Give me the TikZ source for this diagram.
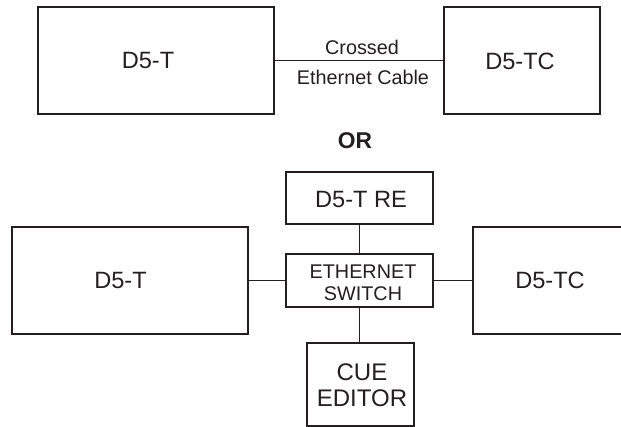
\documentclass[tikz,border=0pt]{standalone}
\usepackage{fontspec}
\setmainfont{Liberation Sans}
\definecolor{ink}{HTML}{231F20}
\begin{document}
\begin{tikzpicture}[x=1pt,y=-1pt,
  box/.style={draw=ink,line width=1.3pt,inner sep=0pt,outer sep=0pt},
  wire/.style={draw=ink,line width=1.3pt},
  big/.style={text=ink,inner sep=0pt,font=\fontsize{23.6}{27}\selectfont},
  small/.style={text=ink,inner sep=0pt,font=\fontsize{19.8}{23}\selectfont},
  orlab/.style={text=ink,inner sep=0pt,font=\fontsize{22.8}{27}\selectfont\bfseries}]
\useasboundingbox (0,0) rectangle (621,427);
\clip (0,0) rectangle (621,427);
% top configuration
\node[box,minimum width=236pt,minimum height=107pt] (ta) at (156,60.5) {};
\node[box,minimum width=156pt,minimum height=107pt] (tb) at (522,60.5) {};
\node[big] (tat) at (148,61) {D5-T};
\node[big] (tbt) at (520,61) {D5-TC};
\draw[wire] (ta.east) -- (tb.west);
\node[small] (c1) at (362,47) {Crossed};
\node[small] (c2) at (363,77) {Ethernet Cable};
\node[orlab] (or) at (355,141) {OR};
% bottom configuration
\node[box,minimum width=147pt,minimum height=52pt] (re) at (359.5,198) {};
\node[big] (ret) at (361,199) {D5-T RE};
\node[box,minimum width=147pt,minimum height=53pt] (sw) at (359.5,280.5) {};
\node[small] (sw1) at (363,272) {ETHERNET};
\node[small] (sw2) at (363,294) {SWITCH};
\node[box,minimum width=107pt,minimum height=83pt] (cue) at (360.5,384.5) {};
\node[big,font=\fontsize{24}{28}\selectfont] (cue1) at (362,372) {CUE};
\node[big,font=\fontsize{24}{28}\selectfont] (cue2) at (362,398) {EDITOR};
\node[box,minimum width=236pt,minimum height=107pt] (ba) at (130,280.5) {};
\node[big] (bat) at (120.5,280) {D5-T};
\node[box,minimum width=170pt,minimum height=107pt] (bb) at (558,280.5) {};
\node[big] (bbt) at (550,280) {D5-TC};
\draw[wire] (re.south) -- (sw.north);
\draw[wire] (sw.south) -- (sw.south |- cue.north);
\draw[wire] (ba.east) -- (sw.west);
\draw[wire] (sw.east) -- (bb.west);
\end{tikzpicture}
\end{document}
